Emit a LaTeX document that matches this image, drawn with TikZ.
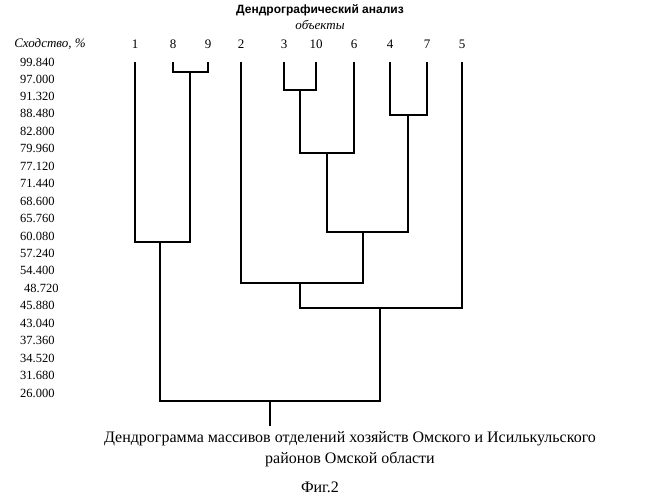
\documentclass[tikz,border=0pt]{standalone}
\usepackage{fontspec}
\setmainfont{Liberation Serif}
\newfontfamily\headfont{Liberation Sans}
\usetikzlibrary{positioning}
\begin{document}
\begin{tikzpicture}[x=1pt,y=-1pt,
    leaf/.style={font=\fontsize{13}{15}\selectfont, inner sep=1pt},
    tick/.style={font=\fontsize{12.5}{14}\selectfont, anchor=west, inner sep=0pt},
    branch/.style={line width=2.2pt}
  ]
  \useasboundingbox (0,0) rectangle (645,500);

  % heading
  \node[font=\headfont\bfseries\fontsize{12}{14}\selectfont] (title) at (320,10) {Дендрографический анализ};
  \node[font=\fontsize{13}{15}\selectfont\itshape] (obj) at (320,25) {объекты};
  \node[font=\fontsize{13}{15}\selectfont\itshape] (sim) at (50,44) {Сходство, \%};

  % leaves
  \foreach \n/\x in {1/135,8/173,9/208,2/241,3/284,10/316,6/354,4/390,7/427,5/462}
    \node[leaf] (l\n) at (\x,44) {\n};

  % scale
  \foreach \v/\y in {99.840/62,97.000/79,91.320/96,88.480/113,82.800/131,79.960/148,
      77.120/166,71.440/183,68.600/201,65.760/218,60.080/236,57.240/253,54.400/270,
      45.880/305,43.040/323,37.360/340,34.520/358,31.680/375,26.000/393}
    \node[tick] at (20,\y) {\v};
  \node[tick] at (24,288) {48.720};

  % merges
  \coordinate (m89) at (190,72);
  \coordinate (m310) at (300,90);
  \coordinate (m47) at (408,115);
  \coordinate (m3106) at (327,153);
  \coordinate (m1) at (160,242);
  \coordinate (m4) at (363,232);
  \coordinate (m2) at (300,283);
  \coordinate (m5) at (380,308);
  \coordinate (root) at (270,401);

  \draw[branch] (135,62) |- (m1) -| (190,62 |- m89);
  \draw[branch] (173,62) |- (m89) -| (208,62);
  \draw[branch] (284,62) |- (m310) -| (316,62);
  \draw[branch] (390,62) |- (m47) -| (427,62);
  \draw[branch] (m310) |- (m3106) -| (354,62);
  \draw[branch] (m3106) |- (m4) -| (m47);
  \draw[branch] (241,62) |- (m2) -| (m4);
  \draw[branch] (m2) |- (m5) -| (462,62);
  \draw[branch] (m1) |- (root) -| (m5);
  \draw[branch] (root) -- ++(0,25);

  % caption
  \node[font=\fontsize{16}{21}\selectfont, align=center] (cap) at (350,449)
    {Дендрограмма массивов отделений хозяйств Омского и Исилькульского\\районов Омской области};
  \node[font=\fontsize{16}{19}\selectfont] (fig) at (320,487) {Фиг.2};
\end{tikzpicture}
\end{document}
